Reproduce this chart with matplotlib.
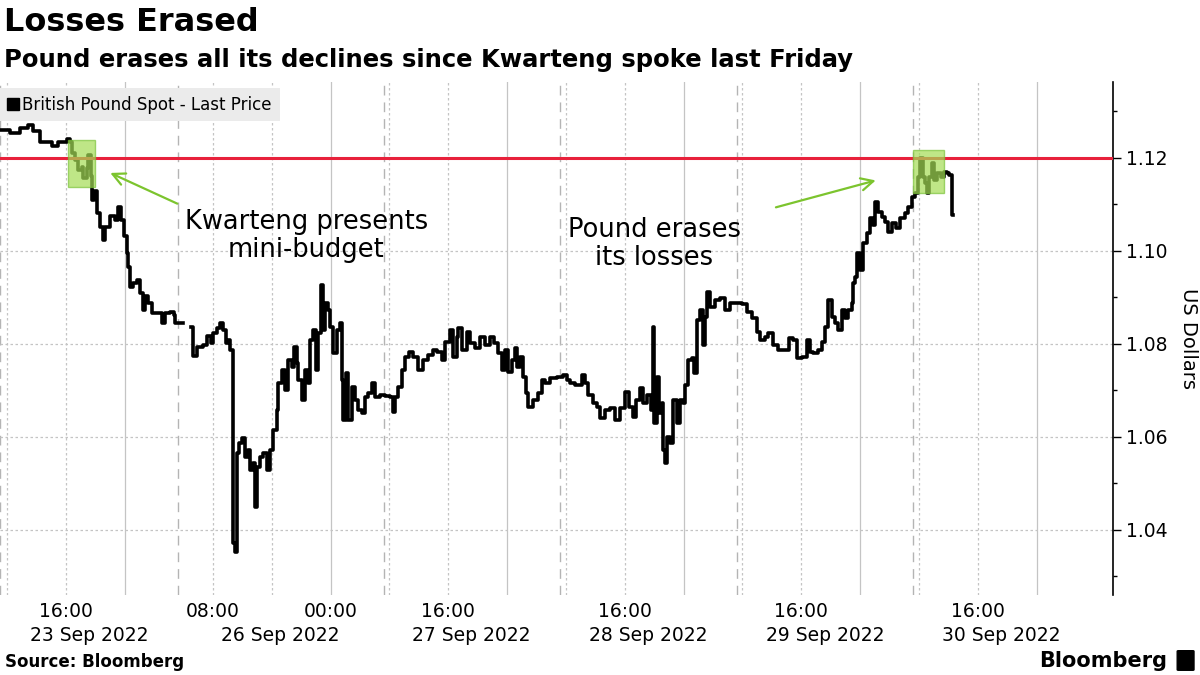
import numpy as np
import matplotlib.pyplot as plt
from matplotlib.patches import Rectangle, FancyBboxPatch
from matplotlib.lines import Line2D

# GBPUSD spot, x = trading hours counted from 08:00 23 Sep (weekend squeezed out)
hours = [-0.95, 0.41, 1.77, 2.86, 3.54, 4.49, 6.12, 6.94, 8.16, 8.57, 8.84, 9.25, 9.66,
         10.2, 10.34, 10.88, 11.02, 11.42, 11.56, 11.83, 12.24, 12.65, 13.06, 13.33,
         14.01, 14.69, 15.1, 15.5, 15.91, 16.32, 16.46, 16.73, 17.14, 17.68, 18.09,
         18.5, 18.77, 19.18, 19.72, 20.4, 21.08, 21.49, 22.17, 22.71, 22.85,
         23.9,
         25.02, 25.3, 25.84, 26.66, 27.2, 27.74, 28.02, 28.56, 28.97, 29.38, 29.78,
         30.06, 30.33, 30.74, 30.8, 31.0, 31.28, 31.55, 31.96, 32.37, 32.78, 33.05,
         33.46, 33.73, 34.0, 34.41, 34.82, 35.36, 35.77, 36.18, 36.72, 36.86, 37.4,
         37.81, 38.22, 38.76, 39.03, 39.44, 39.58, 40.12, 40.53, 40.94, 41.21, 41.62,
         42.02, 42.3, 42.7, 42.98, 43.25, 43.66, 43.93, 44.34, 44.88, 45.29, 45.56,
         45.7, 46.1, 46.38, 46.92, 47.33, 47.74, 48.28, 48.69, 49.1, 49.64, 50.05,
         50.73, 51.41, 52.09, 52.5, 52.77, 53.18, 53.72, 54.13, 54.67, 55.22, 55.9,
         56.58, 57.26, 57.94, 58.48, 59.16, 59.57, 60.25, 60.66, 61.2, 61.34, 61.88,
         62.56, 62.97, 63.65, 64.33, 65.01, 65.69, 66.23, 66.78, 67.32, 67.73, 68.14,
         68.68, 69.09, 69.36, 69.77, 70.18, 70.58, 70.86, 71.54, 72.22, 72.76, 73.17,
         73.85, 74.8, 75.62, 76.16, 76.57, 77.25, 78.2, 78.61, 79.02, 79.7, 80.24,
         80.65, 81.33, 82.01, 82.69, 83.37, 84.05, 84.59, 85.14, 85.54, 86.09, 86.5,
         87.04, 87.58, 87.86, 87.99, 88.4, 88.67, 89.08, 89.22, 89.49, 89.76, 90.17,
         90.58, 91.12, 91.53, 91.94, 92.21, 92.62, 93.16, 93.43, 93.84, 94.25, 94.66,
         94.93, 95.2, 95.61, 96.29, 96.97, 97.65, 98.33, 99.01, 99.96, 100.64, 101.32,
         102.0, 102.41, 103.09, 103.5, 104.18, 104.86, 105.54, 106.35, 106.9, 107.44,
         108.12, 108.8, 109.21, 109.62, 110.3, 110.84, 111.25, 111.66, 112.2, 112.61,
         113.02, 113.56, 113.97, 114.38, 114.92, 115.06, 115.33, 115.6, 116.01, 116.42,
         116.96, 117.37, 117.78, 118.05, 118.46, 119.0, 119.41, 119.82, 120.36, 120.9,
         121.45, 122.13, 122.54, 123.08, 123.49, 123.9, 124.17, 124.58, 124.85, 125.12,
         125.39, 125.8, 126.07, 126.48, 127.02, 127.43, 127.84, 128.11, 128.38, 128.52,
         128.66]
price = [1.1260, 1.1253, 1.1264, 1.1271, 1.1257, 1.1235, 1.1226, 1.1233, 1.1240, 1.1235,
         1.1210, 1.1196, 1.1174, 1.1181, 1.1156, 1.1178, 1.1206, 1.1160, 1.1110, 1.1128,
         1.1081, 1.1052, 1.1024, 1.1052, 1.1074, 1.1067, 1.1095, 1.1067, 1.1031, 1.0995,
         1.0966, 1.0923, 1.0931, 1.0938, 1.0909, 1.0873, 1.0902, 1.0888, 1.0866, 1.0866,
         1.0844, 1.0866, 1.0869, 1.0862, 1.0844,
         np.nan,
         1.0837, 1.0773, 1.0794, 1.0798, 1.0816, 1.0801, 1.0823, 1.0834, 1.0844, 1.0830,
         1.0801, 1.0809, 1.0787, 1.0783, 1.0372, 1.0353, 1.0566, 1.0587, 1.0598, 1.0557,
         1.0572, 1.0529, 1.0544, 1.0450, 1.0536, 1.0557, 1.0566, 1.0529, 1.0572, 1.0615,
         1.0658, 1.0716, 1.0744, 1.0701, 1.0766, 1.0751, 1.0794, 1.0759, 1.0723, 1.0680,
         1.0744, 1.0716, 1.0809, 1.0830, 1.0744, 1.0824, 1.0927, 1.0830, 1.0888, 1.0873,
         1.0837, 1.0781, 1.0830, 1.0845, 1.0723, 1.0637, 1.0738, 1.0637, 1.0708, 1.0680,
         1.0658, 1.0652, 1.0686, 1.0695, 1.0716, 1.0686, 1.0690, 1.0688, 1.0686, 1.0654,
         1.0686, 1.0708, 1.0744, 1.0772, 1.0783, 1.0772, 1.0744, 1.0766, 1.0776, 1.0787,
         1.0783, 1.0766, 1.0804, 1.0830, 1.0772, 1.0815, 1.0834, 1.0787, 1.0826, 1.0802,
         1.0791, 1.0815, 1.0798, 1.0815, 1.0802, 1.0781, 1.0744, 1.0787, 1.0740, 1.0766,
         1.0791, 1.0751, 1.0772, 1.0729, 1.0695, 1.0665, 1.0680, 1.0695, 1.0723, 1.0716,
         1.0727, 1.0729, 1.0733, 1.0723, 1.0716, 1.0712, 1.0733, 1.0716, 1.0690, 1.0673,
         1.0665, 1.0641, 1.0658, 1.0662, 1.0637, 1.0662, 1.0697, 1.0665, 1.0643, 1.0680,
         1.0705, 1.0673, 1.0690, 1.0658, 1.0837, 1.0630, 1.0729, 1.0652, 1.0673, 1.0572,
         1.0544, 1.0600, 1.0587, 1.0680, 1.0630, 1.0680, 1.0673, 1.0712, 1.0766, 1.0770,
         1.0738, 1.0852, 1.0873, 1.0798, 1.0858, 1.0912, 1.0880, 1.0895, 1.0899, 1.0873,
         1.0888, 1.0888, 1.0886, 1.0869, 1.0856, 1.0826, 1.0809, 1.0815, 1.0824, 1.0798,
         1.0787, 1.0787, 1.0813, 1.0809, 1.0770, 1.0772, 1.0809, 1.0783, 1.0781, 1.0787,
         1.0804, 1.0837, 1.0895, 1.0858, 1.0845, 1.0830, 1.0873, 1.0856, 1.0873, 1.0888,
         1.0931, 1.0944, 1.0996, 1.0959, 1.1017, 1.1039, 1.1071, 1.1056, 1.1105, 1.1084,
         1.1073, 1.1062, 1.1041, 1.1060, 1.1049, 1.1071, 1.1082, 1.1095, 1.1116, 1.1125,
         1.1159, 1.1200, 1.1159, 1.1146, 1.1125, 1.1159, 1.1189, 1.1153, 1.1168, 1.1159,
         1.1170, 1.1168, 1.1163, 1.1163, 1.1077, 1.1077]

level = 1.12  # pre-budget level

day_starts = [-0.95, 23.2, 51.2, 75.2, 99.3, 123.2, 147.2]
day_labels = ['23 Sep 2022', '26 Sep 2022', '27 Sep 2022', '28 Sep 2022',
              '29 Sep 2022', '30 Sep 2022']
time_ticks = [8, 28, 44, 60, 84, 108, 132]
time_labels = ['16:00', '08:00', '00:00', '16:00', '16:00', '16:00', '16:00']
grid_00 = [16, 44, 68, 92, 116, 140]
grid_8h = [0, 8, 28, 36, 52, 60, 76, 84, 100, 108, 124, 132]

fig = plt.figure(figsize=(12, 6.75), dpi=100)
ax = fig.add_axes([0.0, 0.1185, 0.9275, 0.7600])

# vertical grid
for g in grid_8h:
    ax.axvline(g, color='#c4c4c4', lw=0.9, ls=(0, (2, 2)), zorder=0)
for g in grid_00:
    ax.axvline(g, color='#c4c4c4', lw=0.9, zorder=0)
for d in day_starts[:-1]:
    ax.axvline(d, color='#b4b4b4', lw=1.0, ls=(0, (7, 5)), zorder=0)
ax.yaxis.grid(True, color='#c4c4c4', lw=0.9, ls=(0, (2, 2)))
ax.set_axisbelow(True)

ax.plot(hours, price, color='black', lw=2.6, drawstyle='steps-post', zorder=3)
ax.axhline(level, color='#e8213b', lw=2.2, zorder=4)

# highlight boxes
for x0, x1, y0, y1 in [(8.3, 12.0, 1.1138, 1.1239), (123.2, 127.45, 1.1125, 1.1217)]:
    ax.add_patch(Rectangle((x0, y0), x1 - x0, y1 - y0, facecolor='#a4dc55', alpha=0.7,
                           edgecolor='#7cc43a', lw=1.0, zorder=5))

green = '#7cc42e'
ax.annotate('', xy=(13.7, 1.1170), xytext=(23.5, 1.1099),
            arrowprops=dict(arrowstyle='->', color=green, lw=1.6, mutation_scale=22))
ax.annotate('', xy=(118.5, 1.1153), xytext=(104.2, 1.1092),
            arrowprops=dict(arrowstyle='->', color=green, lw=1.6, mutation_scale=22))
ax.text(40.7, 1.1032, 'Kwarteng presents\nmini-budget', fontsize=18.5, ha='center',
        va='center', linespacing=1.1)
ax.text(88.0, 1.1015, 'Pound erases\nits losses', fontsize=18.5, ha='center',
        va='center', linespacing=1.1)

ax.set_xlim(-0.95, 150.4)
ax.set_ylim(1.026, 1.1363)

# y axis on the right
ax.yaxis.tick_right()
ax.yaxis.set_label_position('right')
ax.set_yticks([1.04, 1.06, 1.08, 1.10, 1.12])
ax.set_yticklabels(['1.04', '1.06', '1.08', '1.10', '1.12'])
ax.set_yticks(np.arange(1.03, 1.14, 0.02), minor=True)
ax.tick_params(axis='y', which='major', length=6, width=1, labelsize=13.5, pad=3)
ax.tick_params(axis='y', which='minor', length=3, width=1)
ax.set_ylabel('US Dollars', fontsize=14, rotation=270, labelpad=22)

# x axis: times on first row, dates centred on each day below
ax.set_xticks(time_ticks)
ax.set_xticklabels(time_labels)
centres = [(day_starts[i] + day_starts[i + 1]) / 2 for i in range(len(day_labels))]
ax.set_xticks(centres, minor=True)
ax.set_xticklabels(day_labels, minor=True)
ax.tick_params(axis='x', which='major', length=0, labelsize=13.5, pad=5)
ax.tick_params(axis='x', which='minor', length=0, labelsize=13.5, pad=22)

for s in ['top', 'left', 'bottom']:
    ax.spines[s].set_visible(False)
ax.spines['right'].set_linewidth(1.2)

leg_handle = Line2D([], [], ls='none', marker='s', color='black', markersize=9)
ax.legend([leg_handle], ['British Pound Spot - Last Price'], loc='upper left',
          bbox_to_anchor=(0.0, 1 - 88 / 675), bbox_transform=fig.transFigure,
          fontsize=12, frameon=True, facecolor='#ebebeb', edgecolor='none',
          framealpha=1, fancybox=False, handlelength=0.6, handletextpad=0.3,
          borderpad=0.45, borderaxespad=0)

fig.text(0.003, 0.966, 'Losses Erased', fontsize=23, weight='bold', va='center')
fig.text(0.003, 0.911, 'Pound erases all its declines since Kwarteng spoke last Friday',
         fontsize=17.5, weight='bold', va='center')
fig.text(0.004, 0.019, 'Source: Bloomberg', fontsize=12, weight='bold', va='center')
fig.text(0.973, 0.021, 'Bloomberg', fontsize=15, weight='bold', va='center', ha='right')
fig.patches.append(FancyBboxPatch((0.982, 0.008), 0.012, 0.027, boxstyle='round,pad=0.001',
                                  transform=fig.transFigure, facecolor='black',
                                  edgecolor='black', figure=fig))

fig.savefig('out.png', dpi=100)
